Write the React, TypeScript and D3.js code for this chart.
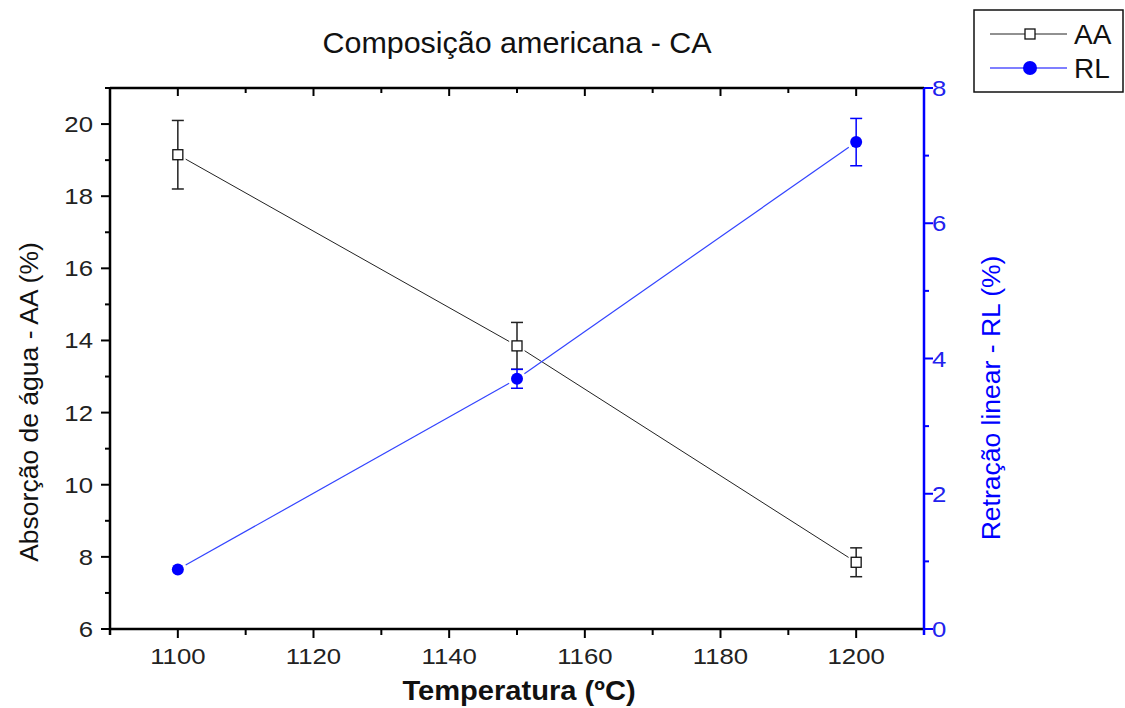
import * as d3 from "d3";

const temps = [1100, 1150, 1200];
const aaValues = [19.15, 13.85, 7.85];
const aaErrors = [0.95, 0.65, 0.4];
const rlValues = [0.88, 3.7, 7.2];
const rlErrors = [0, 0.14, 0.35];

const xTicks = [1100, 1120, 1140, 1160, 1180, 1200];
const xMinor = [1090, 1110, 1130, 1150, 1170, 1190, 1210];
const leftTicks = [6, 8, 10, 12, 14, 16, 18, 20];
const leftMinor = [7, 9, 11, 13, 15, 17, 19, 21];
const rightTicks = [0, 2, 4, 6, 8];
const rightMinor = [1, 3, 5, 7];

const FONT = "'Liberation Sans', Arial, sans-serif";
const BLUE = "#0000ff";
// the original text is a bit wider than Liberation Sans
const TICK_STRETCH = 1.12;

export default function App() {
  const width = 1125;
  const height = 708;
  const left = 110;
  const right = 924;
  const top = 88;
  const bottom = 629;

  const x = d3.scaleLinear().domain([1090, 1210]).range([left, right]);
  const yL = d3.scaleLinear().domain([6, 21]).range([bottom, top]);
  const yR = d3.scaleLinear().domain([0, 8]).range([bottom, top]);

  const aaPts = temps.map((t, i) => [x(t), yL(aaValues[i])]);
  const rlPts = temps.map((t, i) => [x(t), yR(rlValues[i])]);

  // segments shortened near the markers, like Origin does
  const gapped = (pts: number[][], gap: number) =>
    pts.slice(1).map((p, i) => {
      const a = pts[i];
      const dx = p[0] - a[0];
      const dy = p[1] - a[1];
      const len = Math.hypot(dx, dy);
      const ux = dx / len;
      const uy = dy / len;
      return [a[0] + ux * gap, a[1] + uy * gap, p[0] - ux * gap, p[1] - uy * gap];
    });

  const errBar = (cx: number, y1: number, y2: number, color: string, key: string) => (
    <g key={key} stroke={color} strokeWidth={1.5}>
      <line x1={cx} x2={cx} y1={y1} y2={y2} />
      <line x1={cx - 6} x2={cx + 6} y1={y1} y2={y1} />
      <line x1={cx - 6} x2={cx + 6} y1={y2} y2={y2} />
    </g>
  );

  return (
    <svg width={width} height={height} style={{ position: "absolute", left: 0, top: 0, background: "#fff" }} fontFamily={FONT}>
      <rect width={width} height={height} fill="#fff" />
      <text transform="translate(517,53) scale(1.05,1)" textAnchor="middle" fontSize={29} fill="#111">
        Composição americana - CA
      </text>

      {/* lines */}
      {gapped(aaPts, 9).map((s, i) => (
        <line key={"aa" + i} x1={s[0]} y1={s[1]} x2={s[2]} y2={s[3]} stroke="#222" strokeWidth={1} />
      ))}
      {gapped(rlPts, 9).map((s, i) => (
        <line key={"rl" + i} x1={s[0]} y1={s[1]} x2={s[2]} y2={s[3]} stroke="#3344ff" strokeWidth={1.2} />
      ))}

      {/* error bars */}
      {temps.map((t, i) =>
        aaErrors[i] > 0 ? errBar(x(t), yL(aaValues[i] + aaErrors[i]), yL(aaValues[i] - aaErrors[i]), "#222", "ea" + i) : null
      )}
      {temps.map((t, i) =>
        rlErrors[i] > 0 ? errBar(x(t), yR(rlValues[i] + rlErrors[i]), yR(rlValues[i] - rlErrors[i]), BLUE, "er" + i) : null
      )}

      {/* markers */}
      {aaPts.map((p, i) => (
        <rect key={"ma" + i} x={p[0] - 5} y={p[1] - 5} width={10} height={10} fill="#fff" stroke="#111" strokeWidth={1.3} />
      ))}
      {rlPts.map((p, i) => (
        <circle key={"mr" + i} cx={p[0]} cy={p[1]} r={6} fill={BLUE} />
      ))}

      {/* bottom axis */}
      {xTicks.map((t) => (
        <g key={"xb" + t}>
          <line x1={x(t)} x2={x(t)} y1={bottom} y2={bottom + 9} stroke="#000" strokeWidth={2} />
          <line x1={x(t)} x2={x(t)} y1={top} y2={top + 8} stroke="#000" strokeWidth={2} />
          <text transform={`translate(${x(t)},664) scale(${TICK_STRETCH},1)`} textAnchor="middle" fontSize={23} fill="#222">
            {t}
          </text>
        </g>
      ))}
      {xMinor.map((t) => (
        <g key={"xm" + t}>
          <line x1={x(t)} x2={x(t)} y1={bottom} y2={bottom + 6} stroke="#000" strokeWidth={2} />
          <line x1={x(t)} x2={x(t)} y1={top} y2={top + 5} stroke="#000" strokeWidth={2} />
        </g>
      ))}
      <line x1={left} x2={right} y1={bottom} y2={bottom} stroke="#000" strokeWidth={2.5} />
      <line x1={left} x2={right} y1={top} y2={top} stroke="#000" strokeWidth={2.5} />

      {/* left axis */}
      <line x1={left} x2={left} y1={top} y2={bottom + 6} stroke="#000" strokeWidth={2.5} />
      {leftTicks.map((t) => (
        <g key={"yl" + t}>
          <line x1={left - 9} x2={left} y1={yL(t)} y2={yL(t)} stroke="#000" strokeWidth={2} />
          <text transform={`translate(93,${yL(t) + 8}) scale(${TICK_STRETCH},1)`} textAnchor="end" fontSize={23} fill="#222">
            {t}
          </text>
        </g>
      ))}
      {leftMinor.map((t) => (
        <line key={"ylm" + t} x1={left - 5} x2={left} y1={yL(t)} y2={yL(t)} stroke="#000" strokeWidth={2} />
      ))}

      {/* right axis */}
      <line x1={right} x2={right} y1={top} y2={bottom + 6} stroke={BLUE} strokeWidth={2.5} />
      {rightTicks.map((t) => (
        <g key={"yr" + t}>
          <line x1={right} x2={right + 9} y1={yR(t)} y2={yR(t)} stroke={BLUE} strokeWidth={2} />
          <text transform={`translate(932,${yR(t) + 8}) scale(${TICK_STRETCH},1)`} textAnchor="start" fontSize={23} fill="#2222ee">
            {t}
          </text>
        </g>
      ))}
      {rightMinor.map((t) => (
        <line key={"yrm" + t} x1={right} x2={right + 5} y1={yR(t)} y2={yR(t)} stroke={BLUE} strokeWidth={2} />
      ))}

      {/* axis titles */}
      <text transform="translate(519,700) scale(1.04,1)" textAnchor="middle" fontSize={28} fontWeight="bold" fill="#111">
        Temperatura (ºC)
      </text>
      <text transform="translate(38,402) rotate(-90)" textAnchor="middle" fontSize={26.5} fill="#111">
        Absorção de água - AA (%)
      </text>
      <text transform="translate(1000,398) rotate(-90)" textAnchor="middle" fontSize={26.5} fill={BLUE}>
        Retração linear - RL (%)
      </text>

      {/* legend */}
      <rect x={974} y={10} width={149} height={82} fill="#fff" stroke="#111" strokeWidth={1.5} />
      <line x1={990} x2={1067} y1={34} y2={34} stroke="#222" strokeWidth={1} />
      <rect x={1025} y={29} width={10} height={10} fill="#fff" stroke="#111" strokeWidth={1.3} />
      <text x={1074} y={44} fontSize={28} fill="#111">AA</text>
      <line x1={990} x2={1067} y1={68} y2={68} stroke={BLUE} strokeWidth={1.2} />
      <circle cx={1030} cy={68} r={7} fill={BLUE} />
      <text x={1074} y={78} fontSize={28} fill="#111">RL</text>
    </svg>
  );
}
